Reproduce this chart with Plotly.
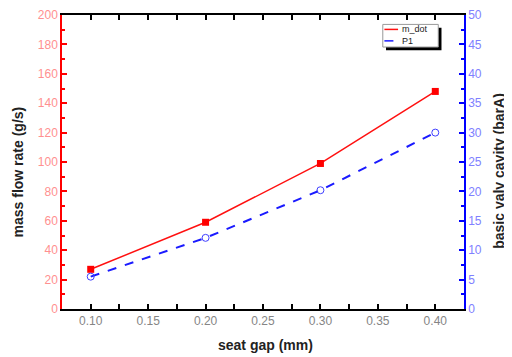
import plotly.graph_objects as go

seat_gap = [0.10, 0.20, 0.30, 0.40]
m_dot = [27, 59, 99, 148]
p1 = [5.5, 12.1, 20.2, 30.0]
x_ticks = [0.10, 0.15, 0.20, 0.25, 0.30, 0.35, 0.40]
x_tick_labels = ["0.10", "0.15", "0.20", "0.25", "0.30", "0.35", "0.40"]
series_names = ["m_dot", "P1"]

RED = "#ff1010"
BLUE = "#1a1aff"
font = "Arial, Liberation Sans, sans-serif"

fig = go.Figure()
fig.add_trace(go.Scatter(x=seat_gap, y=m_dot, name=series_names[0], mode="lines+markers",
                         line=dict(color=RED, width=1.5),
                         marker=dict(symbol="square", size=7, color="#ff0000"), showlegend=False))
fig.add_trace(go.Scatter(x=seat_gap, y=p1, name=series_names[1], mode="lines+markers", yaxis="y2",
                         line=dict(color=BLUE, width=2, dash="dash"),
                         marker=dict(symbol="circle-open", size=7, color="#4040ff", line=dict(width=1)),
                         showlegend=False))

# custom compact legend (drawn in paper space via a hidden overlay axis)
lg_x0, lg_x1 = 0.798, 0.936
lg_ytop, lg_ybot = 0.968, 0.891
row_y = [0.951, 0.912]
line_x = [0.802, 0.836]
mark_x = 0.819
fig.add_shape(type="rect", xref="paper", yref="paper",
              x0=lg_x0 + 0.008, x1=lg_x1 + 0.008, y0=lg_ybot - 0.011, y1=lg_ytop - 0.011,
              fillcolor="black", line=dict(width=0))
fig.add_shape(type="rect", xref="paper", yref="paper",
              x0=lg_x0, x1=lg_x1, y0=lg_ybot, y1=lg_ytop,
              fillcolor="white", line=dict(color="#999999", width=1))
fig.add_shape(type="line", xref="paper", yref="paper", x0=line_x[0], x1=line_x[1],
              y0=row_y[0], y1=row_y[0], line=dict(color=RED, width=1.5))
fig.add_shape(type="line", xref="paper", yref="paper", x0=line_x[0], x1=line_x[1],
              y0=row_y[1], y1=row_y[1], line=dict(color=BLUE, width=1.5, dash="dash"))
fig.add_trace(go.Scatter(x=[mark_x], y=[row_y[0]], xaxis="x3", yaxis="y3", mode="markers",
                         marker=dict(symbol="square", size=6, color="#ff0000"),
                         showlegend=False, hoverinfo="skip"))
fig.add_trace(go.Scatter(x=[mark_x], y=[row_y[1]], xaxis="x3", yaxis="y3", mode="markers",
                         marker=dict(symbol="circle", size=6, color="white", line=dict(color="#4040ff", width=1)),
                         showlegend=False, hoverinfo="skip"))
for name, yy in zip(series_names, row_y):
    fig.add_annotation(xref="paper", yref="paper", x=line_x[1] + 0.004, y=yy, text=name,
                       showarrow=False, xanchor="left", yanchor="middle",
                       font=dict(size=9, family=font, color="#222222"))

# axis titles
title_font = dict(size=14, family=font, color="#222222")
fig.add_annotation(xref="paper", yref="paper", x=-0.109, y=0.465, text="<b>mass flow rate (g/s)</b>",
                   textangle=-90, showarrow=False, xanchor="center", yanchor="middle", font=title_font)
fig.add_annotation(xref="paper", yref="paper", x=1.087, y=0.47, text="<b>basic valv cavity (barA)</b>",
                   textangle=-90, showarrow=False, xanchor="center", yanchor="middle", font=title_font)
fig.add_annotation(xref="paper", yref="paper", x=0.507, y=-0.122, text="<b>seat gap (mm)</b>",
                   showarrow=False, xanchor="center", yanchor="middle", font=title_font)

# page body has an 8px margin, so the figure is sized to the remaining window area
fig.update_layout(
    width=504, height=349,
    margin=dict(l=54, r=48, t=7, b=48, autoexpand=False),
    paper_bgcolor="white", plot_bgcolor="white",
    font=dict(family=font, size=12, color="black"),
    showlegend=False,
    xaxis=dict(range=[0.075, 0.425], tickvals=x_ticks, ticktext=x_tick_labels,
               ticks="inside", ticklen=5, tickwidth=1.5, tickcolor="black",
               minor=dict(ticks="inside", ticklen=3, tickwidth=1.5, tickcolor="black", dtick=0.025, tick0=0.075),
               showline=True, linecolor="black", linewidth=1.5, mirror="allticks",
               showgrid=False, zeroline=False, automargin=False, ticklabeloverflow="allow",
               tickfont=dict(color="#858585", size=12)),
    yaxis=dict(range=[0, 200], dtick=20, ticks="inside", ticklen=5, tickwidth=1.5, tickcolor="#ff0000",
               minor=dict(ticks="inside", ticklen=3, tickwidth=1.5, tickcolor="#ff0000", dtick=10),
               showline=True, linecolor="#ff0000", linewidth=1.5,
               showgrid=False, zeroline=False, automargin=False, ticklabeloverflow="allow",
               tickfont=dict(color="#ff9090", size=12)),
    yaxis2=dict(range=[0, 50], dtick=5, overlaying="y", side="right",
                ticks="inside", ticklen=5, tickwidth=1.5, tickcolor="#0000ff",
                minor=dict(ticks="inside", ticklen=3, tickwidth=1.5, tickcolor="#0000ff", dtick=2.5),
                showline=True, linecolor="#0000ff", linewidth=1.5,
                showgrid=False, zeroline=False, automargin=False, ticklabeloverflow="allow",
                tickfont=dict(color="#8080ff", size=12)),
    xaxis3=dict(range=[0, 1], overlaying="x", visible=False, fixedrange=True),
    yaxis3=dict(range=[0, 1], overlaying="y", visible=False, fixedrange=True),
)
fig.write_html("out.html")
